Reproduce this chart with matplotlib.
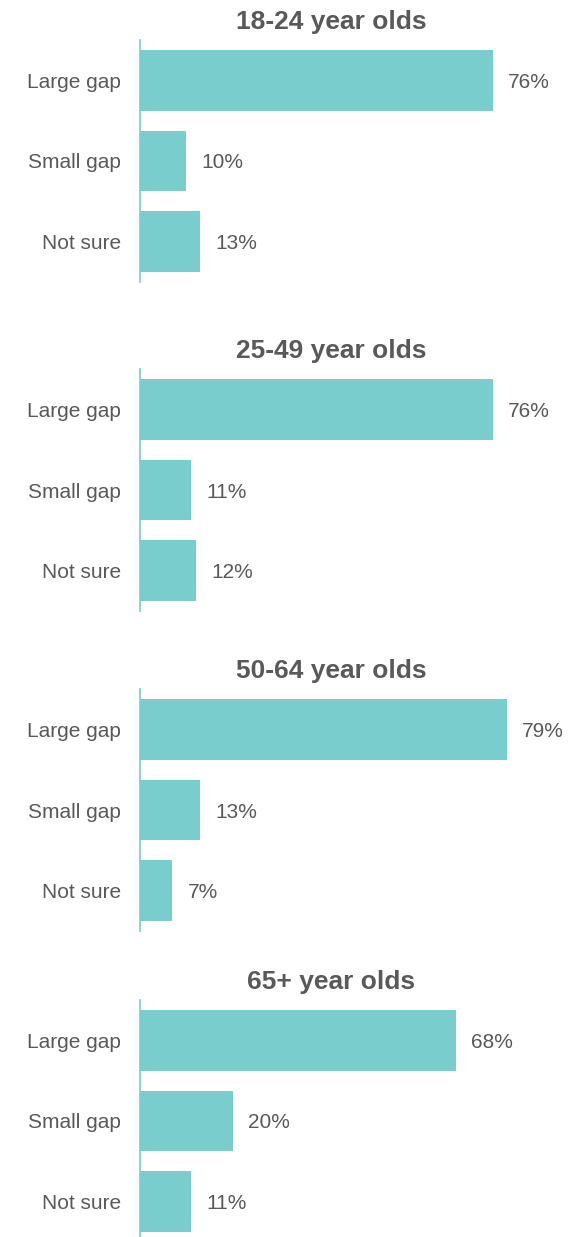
import numpy as np
import matplotlib.pyplot as plt

plt.rcParams['font.family'] = ['Liberation Sans', 'DejaVu Sans']

# data
groups = ['18-24 year olds', '25-49 year olds', '50-64 year olds', '65+ year olds']
answers = ['Large gap', 'Small gap', 'Not sure']
age_18_24 = [76, 10, 13]
age_25_49 = [76, 11, 12]
age_50_64 = [79, 13, 7]
age_65_up = [68, 20, 11]
values = [age_18_24, age_25_49, age_50_64, age_65_up]

bar_color = '#79CDCD'
text_color = '#595959'

W, H = 578, 1237
fig = plt.figure(figsize=(W / 100, H / 100), dpi=100)

# axes tops in pixels (from top of figure)
tops = [40, 369, 689, 1000]
ax_left, ax_w, ax_h = 140, 382, 242
px_per_pct = 4.64

for top, title, vals in zip(tops, groups, values):
    ax = fig.add_axes([ax_left / W, 1 - (top + ax_h) / H, ax_w / W, ax_h / H])
    y = np.arange(len(answers))
    ax.barh(y, vals, height=0.755, color=bar_color)
    ax.set_xlim(0, ax_w / px_per_pct)
    ax.set_ylim(2.5, -0.5)
    ax.set_yticks(y)
    ax.set_yticklabels(answers, fontsize=15, color=text_color)
    ax.tick_params(axis='y', length=0, pad=13.5)
    ax.set_xticks([])
    for s in ['top', 'right', 'bottom']:
        ax.spines[s].set_visible(False)
    ax.spines['left'].set_color(bar_color)
    ax.spines['left'].set_linewidth(1.2)
    for yi, v in zip(y, vals):
        ax.annotate(f'{v}%', xy=(v, yi), xytext=(11, 0), textcoords='offset points',
                    va='center_baseline', ha='left', fontsize=15, color=text_color)
    ax.annotate(title, xy=(0.5, 1), xycoords='axes fraction', xytext=(0, 13),
                textcoords='offset points', ha='center', va='center',
                fontsize=19, fontweight='bold', color=text_color)

fig.savefig('out.png', dpi=100)
